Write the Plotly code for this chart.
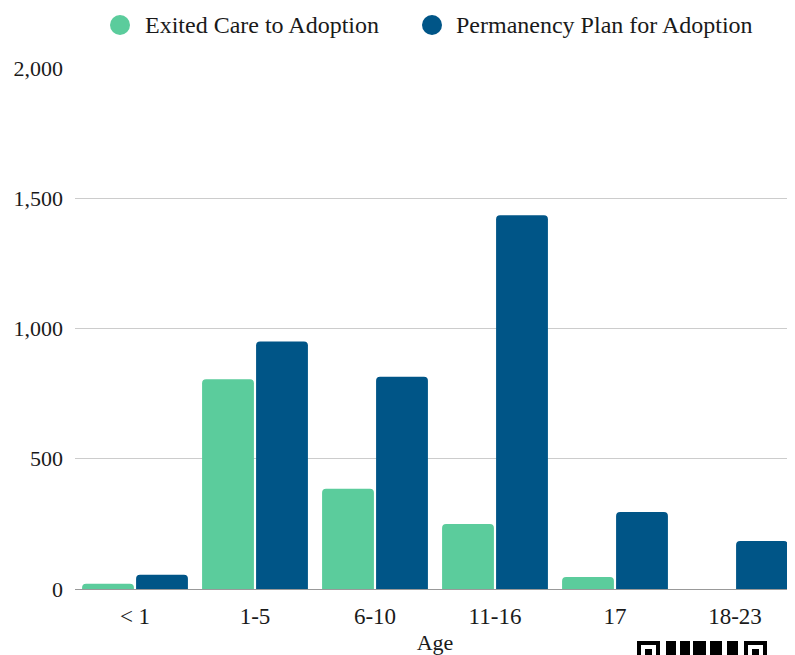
import plotly.graph_objects as go

categories = ["< 1", "1-5", "6-10", "11-16", "17", "18-23"]
exited = [20, 805, 385, 250, 46, 0]
plan = [55, 950, 815, 1435, 296, 184]
series_names = ["Exited Care to Adoption", "Permanency Plan for Adoption"]
tick_vals = [0, 500, 1000, 1500, 2000]
tick_text = ["0", "500", "1,000", "1,500", "2,000"]

GREEN = "#5bcc9c"
BLUE = "#005587"
FONT = "Liberation Serif"
TXT = "#1a1a1a"

# page is offset by 8px body margin; plot area spans page x 75..795, y 68..589
L, T, PW, PH = 67, 60, 720, 521

fig = go.Figure()
fig.add_trace(go.Bar(x=categories, y=exited, name=series_names[0],
                     marker=dict(color=GREEN, cornerradius=4, line=dict(width=0))))
fig.add_trace(go.Bar(x=categories, y=plan, name=series_names[1],
                     marker=dict(color=BLUE, cornerradius=4, line=dict(width=0))))

fig.update_layout(
    width=L + PW, height=647,
    margin=dict(l=L, r=0, t=T, b=647 - T - PH, autoexpand=False),
    paper_bgcolor="white", plot_bgcolor="white",
    barmode="group", bargap=0.1, bargroupgap=0.04,
    font=dict(family=FONT, size=22, color=TXT),
    showlegend=False,
    xaxis=dict(title=dict(text="Age", font=dict(size=22), standoff=16),
               automargin=False,
               showgrid=False, showline=True, linecolor="#999999", linewidth=1,
               ticks="", ticklabelstandoff=6, tickfont=dict(size=23)),
    yaxis=dict(range=[0, 2000], tickvals=tick_vals, ticktext=tick_text,
               automargin=False,
               showgrid=True, gridcolor="#cccccc", gridwidth=1,
               zeroline=False, ticks="", ticklabelstandoff=11, tickfont=dict(size=22)),
)

def px(x):
    return (x - 75) / PW

def py(y):
    return (589 - y) / PH

# Legend: circles + text at top
legend_items = [(120, 143, series_names[0], GREEN), (432, 454, series_names[1], BLUE)]
for cx, tx, name, col in legend_items:
    fig.add_shape(type="circle", xref="paper", yref="paper",
                  x0=px(cx - 10), x1=px(cx + 10), y0=py(35), y1=py(15),
                  fillcolor=col, line=dict(width=0))
    fig.add_annotation(text=name, xref="paper", yref="paper", x=px(tx), y=py(25),
                       xanchor="left", yanchor="middle", showarrow=False,
                       font=dict(family=FONT, size=24, color=TXT))

# Partial QR code at bottom right (cropped image in reference)
qr_black = [(637, 660), (666, 676), (680, 690), (693, 706), (710, 722), (727, 738), (744, 767)]
for x0, x1 in qr_black:
    fig.add_shape(type="rect", xref="paper", yref="paper",
                  x0=px(x0), x1=px(x1), y0=py(660), y1=py(641),
                  fillcolor="black", line=dict(width=0))
for x0, x1 in [(641, 656), (748, 763)]:
    fig.add_shape(type="rect", xref="paper", yref="paper",
                  x0=px(x0), x1=px(x1), y0=py(660), y1=py(645),
                  fillcolor="white", line=dict(width=0))
for x0, x1 in [(645, 652), (752, 759)]:
    fig.add_shape(type="rect", xref="paper", yref="paper",
                  x0=px(x0), x1=px(x1), y0=py(660), y1=py(649),
                  fillcolor="black", line=dict(width=0))

fig.write_html("out.html")
